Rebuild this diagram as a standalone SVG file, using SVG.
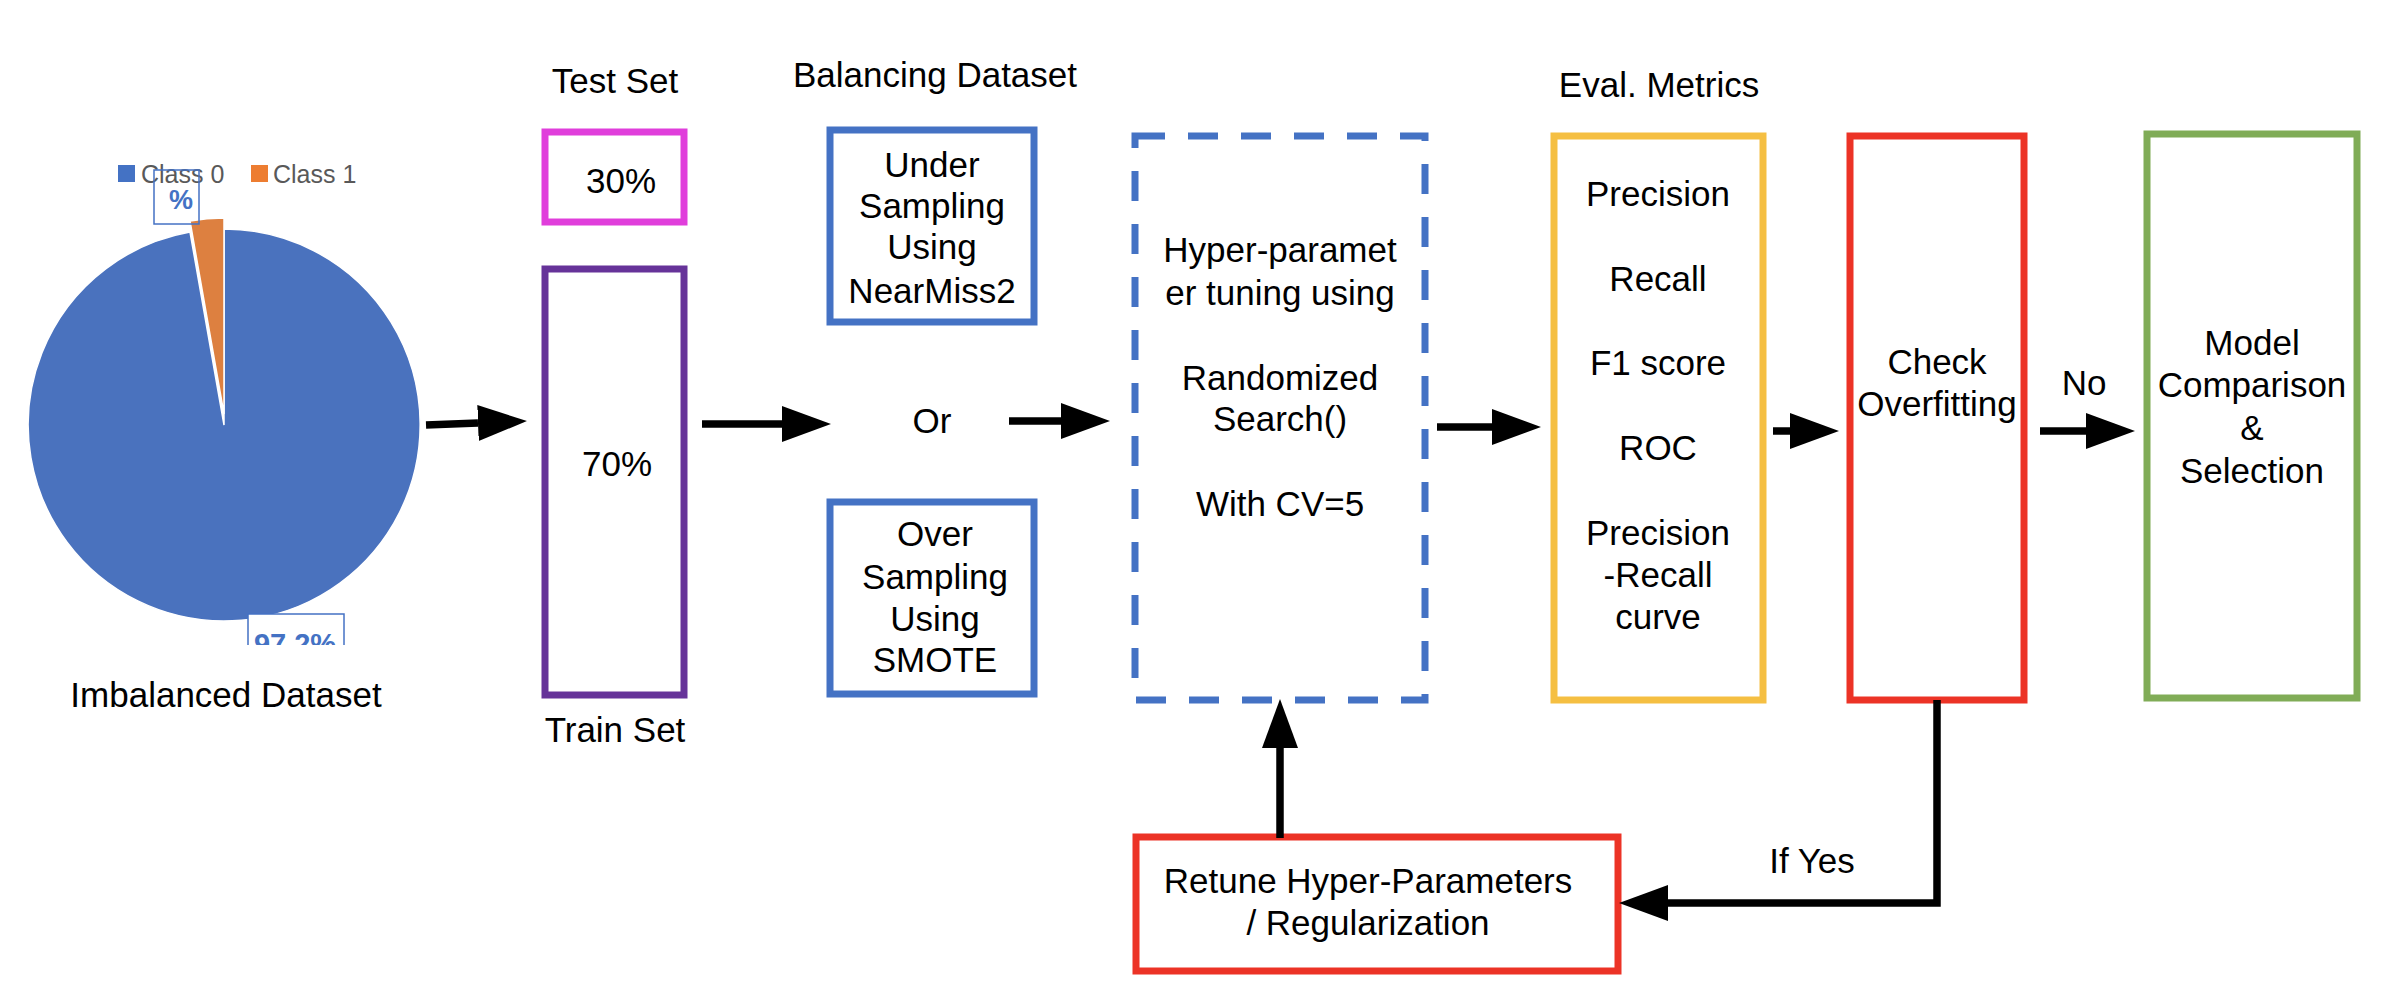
<svg xmlns="http://www.w3.org/2000/svg" width="2406" height="1002" viewBox="0 0 2406 1002">
<style>
text{font-family:"Liberation Sans",Arial,sans-serif;fill:#000;}
.t{font-size:35px;text-anchor:middle;}
.box{fill:#fff;stroke-width:7;}
.conn{fill:none;stroke:#000;stroke-width:7.5;}
.leg{font-size:25px;fill:#595959;}
.lbl{font-weight:bold;fill:#4472C4;text-anchor:middle;}
</style>
<defs>
<marker id="ah" markerUnits="userSpaceOnUse" markerWidth="50" markerHeight="38" refX="0" refY="18" orient="auto" viewBox="0 0 50 36">
<path d="M0,0 L49,18 L0,36 Z" fill="#000"/>
</marker>
<clipPath id="chartclip"><rect x="0" y="100" width="470" height="545"/></clipPath>
</defs>
<rect width="2406" height="1002" fill="#fff"/>

<g id="pie">
<g clip-path="url(#chartclip)">
<path d="M224,425 L224,229 A196,196 0 1,1 190,232 Z" fill="#4A72BE" stroke="#fff" stroke-width="1.5"/>
<path d="M224,414 L190,221 A196,196 0 0,1 224,218 Z" fill="#DD8040" stroke="#fff" stroke-width="1.5"/>
<rect x="118" y="165" width="17" height="17" fill="#4472C4"/>
<text class="leg" x="141" y="183">Class 0</text>
<rect x="251" y="165" width="17" height="17" fill="#ED7D31"/>
<text class="leg" x="273" y="183">Class 1</text>
<rect x="154" y="170" width="45" height="54" fill="none" stroke="#4472C4" stroke-width="1.5"/>
<text class="lbl" x="181" y="209" font-size="27">%</text>
<rect x="248" y="614" width="96" height="60" fill="#fff" stroke="#4472C4" stroke-width="1.5"/>
<text class="lbl" x="295" y="654" font-size="29">97.2%</text>
</g>
<text class="t" x="226" y="707">Imbalanced Dataset</text>
</g>

<g id="test-set">
<text class="t" x="615" y="93">Test Set</text>
<rect class="box" x="545" y="132" width="139" height="90" stroke="#E03EDB"/>
<text class="t" x="621" y="193">30%</text>
</g>

<g id="train-set">
<rect class="box" x="545" y="269" width="139" height="426" stroke="#663399"/>
<text class="t" x="617" y="476">70%</text>
<text class="t" x="615" y="742">Train Set</text>
</g>

<g id="balancing">
<text class="t" x="935" y="87">Balancing Dataset</text>
<text class="t" x="932" y="433">Or</text>
</g>

<g id="under-sampling">
<rect class="box" x="830" y="130" width="204" height="192" stroke="#4472C4"/>
<text class="t" x="932" y="177">Under</text>
<text class="t" x="932" y="218">Sampling</text>
<text class="t" x="932" y="259">Using</text>
<text class="t" x="932" y="303">NearMiss2</text>
</g>

<g id="over-sampling">
<rect class="box" x="830" y="502" width="204" height="192" stroke="#4472C4"/>
<text class="t" x="935" y="546">Over</text>
<text class="t" x="935" y="589">Sampling</text>
<text class="t" x="935" y="631">Using</text>
<text class="t" x="935" y="672">SMOTE</text>
</g>

<g id="hyper-tuning">
<rect class="box" x="1135" y="136" width="290" height="564" stroke="#4472C4" stroke-dasharray="30 23"/>
<text class="t" x="1280" y="262">Hyper-paramet</text>
<text class="t" x="1280" y="305">er tuning using</text>
<text class="t" x="1280" y="390">Randomized</text>
<text class="t" x="1280" y="431">Search()</text>
<text class="t" x="1280" y="516">With CV=5</text>
</g>

<g id="eval-metrics">
<text class="t" x="1659" y="97">Eval. Metrics</text>
<rect class="box" x="1554" y="136" width="209" height="564" stroke="#F5BF42"/>
<text class="t" x="1658" y="206">Precision</text>
<text class="t" x="1658" y="291">Recall</text>
<text class="t" x="1658" y="375">F1 score</text>
<text class="t" x="1658" y="460">ROC</text>
<text class="t" x="1658" y="545">Precision</text>
<text class="t" x="1658" y="587">-Recall</text>
<text class="t" x="1658" y="629">curve</text>
</g>

<g id="check-overfitting">
<rect class="box" x="1850" y="136" width="174" height="564" stroke="#EC3326"/>
<text class="t" x="1937" y="374">Check</text>
<text class="t" x="1937" y="416">Overfitting</text>
</g>

<g id="model-selection">
<rect class="box" x="2147" y="134" width="210" height="564" stroke="#80AC57"/>
<text class="t" x="2252" y="355">Model</text>
<text class="t" x="2252" y="397">Comparison</text>
<text class="t" x="2252" y="440">&amp;</text>
<text class="t" x="2252" y="483">Selection</text>
</g>

<g id="retune">
<rect class="box" x="1136" y="837" width="482" height="134" stroke="#EC3326"/>
<text class="t" x="1368" y="893">Retune Hyper-Parameters</text>
<text class="t" x="1368" y="935">/ Regularization</text>
</g>

<g id="connectors">
<path class="conn" d="M426,425 L478,423" marker-end="url(#ah)"/>
<path class="conn" d="M702,424 L782,424" marker-end="url(#ah)"/>
<path class="conn" d="M1009,421 L1061,421" marker-end="url(#ah)"/>
<path class="conn" d="M1437,427 L1492,427" marker-end="url(#ah)"/>
<path class="conn" d="M1773,431 L1790,431" marker-end="url(#ah)"/>
<path class="conn" d="M2040,431 L2086,431" marker-end="url(#ah)"/>
<path class="conn" d="M1280,838 L1280,748" marker-end="url(#ah)"/>
<path class="conn" d="M1937,700 L1937,903 L1668,903" marker-end="url(#ah)"/>
<text class="t" x="2084" y="395">No</text>
<text class="t" x="1812" y="873">If Yes</text>
</g>
</svg>
